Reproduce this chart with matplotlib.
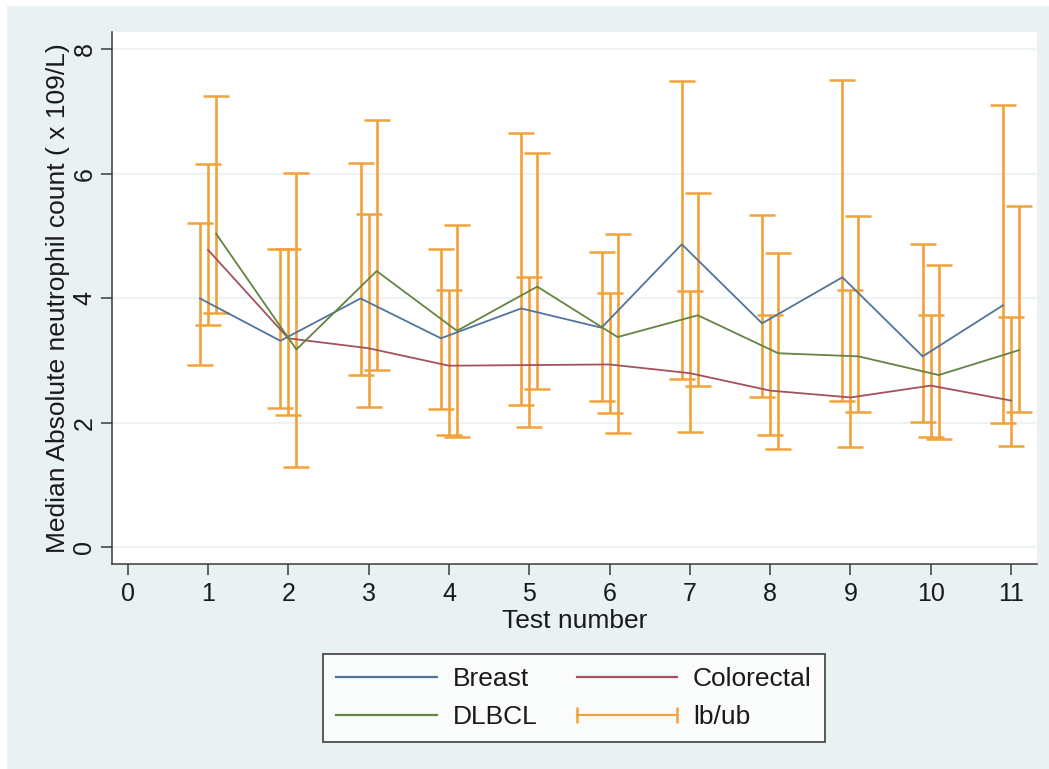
import numpy as np
import matplotlib.pyplot as plt
from matplotlib.lines import Line2D
from matplotlib.legend_handler import HandlerLine2D
from matplotlib.patches import Rectangle

plt.rcParams['font.family'] = ['Liberation Sans', 'DejaVu Sans']

# === data ===
tests = [1, 2, 3, 4, 5, 6, 7, 8, 9, 10, 11]

breast_med = [4.00, 3.32, 4.00, 3.36, 3.84, 3.53, 4.87, 3.60, 4.34, 3.07, 3.89]
breast_lb = [2.93, 2.24, 2.77, 2.22, 2.29, 2.35, 2.71, 2.41, 2.35, 2.01, 2.00]
breast_ub = [5.22, 4.79, 6.18, 4.79, 6.66, 4.75, 7.49, 5.34, 7.51, 4.87, 7.11]

colorectal_med = [4.78, 3.36, 3.20, 2.92, 2.93, 2.94, 2.80, 2.52, 2.41, 2.60, 2.36]
colorectal_lb = [3.58, 2.13, 2.25, 1.81, 1.93, 2.16, 1.85, 1.81, 1.62, 1.77, 1.63]
colorectal_ub = [6.16, 4.79, 5.36, 4.13, 4.34, 4.08, 4.12, 3.73, 4.13, 3.73, 3.70]

dlbcl_med = [5.04, 3.18, 4.44, 3.48, 4.19, 3.38, 3.73, 3.12, 3.07, 2.77, 3.17]
dlbcl_lb = [3.76, 1.30, 2.85, 1.77, 2.55, 1.84, 2.60, 1.59, 2.17, 1.75, 2.17]
dlbcl_ub = [7.25, 6.01, 6.87, 5.18, 6.34, 5.03, 5.69, 4.73, 5.33, 4.54, 5.49]

c_breast = '#52739a'
c_colorectal = '#a2515d'
c_dlbcl = '#648442'
c_bar = '#f1a23a'
bg = '#e9f1f3'

fig = plt.figure(figsize=(10.49, 7.69), dpi=100)
fig.patch.set_facecolor('white')
fig.patches.append(Rectangle((7 / 1049, 0), 1, 1 - 6 / 769, transform=fig.transFigure,
                             facecolor=bg, edgecolor='none', zorder=-10))

ax = fig.add_axes([111.7 / 1049, 1 - 564.3 / 769, 925 / 1049, 532.3 / 769])
ax.set_facecolor('white')

x = np.array(tests, dtype=float)
series = [
    (x - 0.1, breast_med, breast_lb, breast_ub, c_breast),
    (x, colorectal_med, colorectal_lb, colorectal_ub, c_colorectal),
    (x + 0.1, dlbcl_med, dlbcl_lb, dlbcl_ub, c_dlbcl),
]

# error bars first, lines on top
for xs, med, lb, ub, col in series:
    med = np.array(med)
    yerr = [med - np.array(lb), np.array(ub) - med]
    ax.errorbar(xs, med, yerr=yerr, fmt='none', ecolor=c_bar, elinewidth=1.9,
                capsize=9.5, capthick=1.8, zorder=2)
for xs, med, lb, ub, col in series:
    ax.plot(xs, med, color=col, lw=1.3, zorder=3)

ax.set_xlim(-0.2, 11.32)
ax.set_ylim(-0.27, 8.28)
ax.set_xticks(range(0, 12))
ax.set_yticks([0, 2, 4, 6, 8])
ax.grid(axis='y', color='#edf3f5', lw=1.6)
ax.set_axisbelow(True)

for s in ['top', 'right']:
    ax.spines[s].set_visible(False)
for s in ['left', 'bottom']:
    ax.spines[s].set_color('#3a3a3a')
    ax.spines[s].set_linewidth(1.1)

ax.tick_params(axis='both', direction='out', length=8, width=1.1, color='#3a3a3a',
               labelsize=18, labelcolor='#1a1a1a')
ax.tick_params(axis='x', pad=5)
ax.tick_params(axis='y', pad=3)
for lbl in ax.get_yticklabels():
    lbl.set_rotation(90)
    lbl.set_va('center')

ax.set_xlabel('Test number', fontsize=19, color='#1a1a1a', labelpad=2)
ax.set_ylabel('Median Absolute neutrophil count ( x 109/L)', fontsize=19,
              color='#1a1a1a', labelpad=2)

handles = [
    Line2D([], [], color=c_breast, lw=1.6),
    Line2D([], [], color=c_dlbcl, lw=1.6),
    Line2D([], [], color=c_colorectal, lw=1.6),
    Line2D([], [], color=c_bar, lw=1.6, marker='|', markersize=11, markeredgewidth=1.8),
]
labels = ['Breast', 'DLBCL', 'Colorectal', 'lb/ub']
leg = fig.legend(handles, labels, ncol=2, loc='center',
                 bbox_to_anchor=(574 / 1049, 1 - 698 / 769), fontsize=19,
                 frameon=True, fancybox=False, edgecolor='#222222', facecolor='white',
                 numpoints=2, handler_map={Line2D: HandlerLine2D(marker_pad=0)},
                 handlelength=3.8, handletextpad=0.6, columnspacing=1.5,
                 borderpad=0.5, labelspacing=0.55)
leg.get_frame().set_linewidth(1.3)
for t in leg.get_texts():
    t.set_color('#1a1a1a')

fig.savefig('out.png', dpi=100, facecolor=fig.get_facecolor())
